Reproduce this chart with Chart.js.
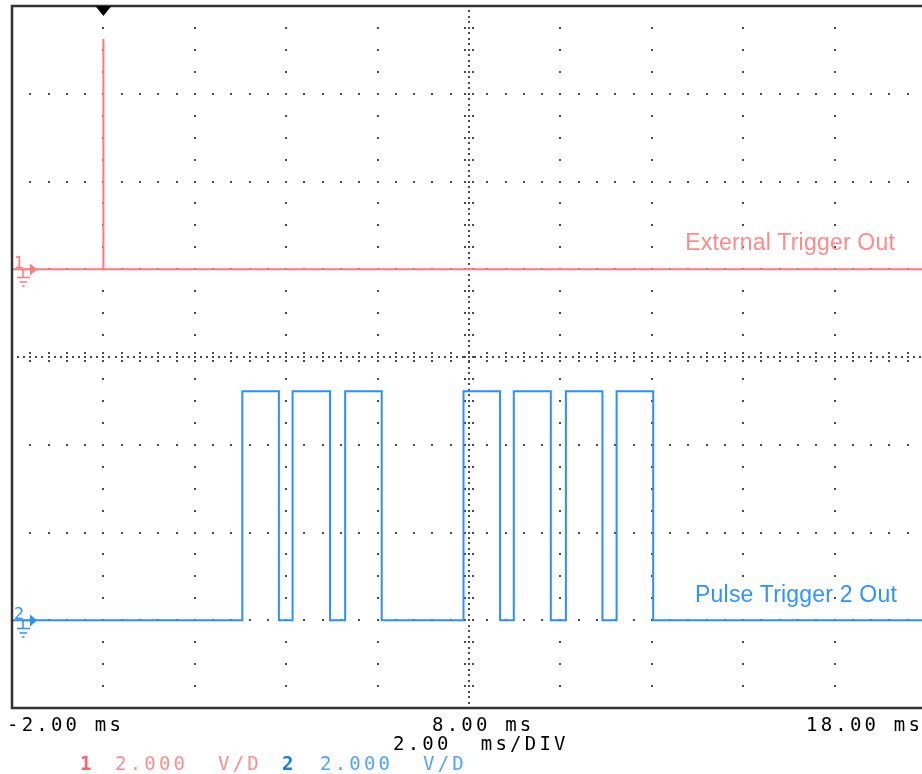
<!DOCTYPE html>
<html>
<head>
<meta charset="utf-8">
<script src="https://cdn.jsdelivr.net/npm/chart.js@4.4.1/dist/chart.umd.min.js"></script>
<style>
html,body{margin:0;padding:0;background:#fff;width:922px;height:774px;overflow:hidden;}
#wrap{position:relative;width:922px;height:774px;overflow:hidden;}
canvas{position:absolute;left:0;top:0;}
.t{position:absolute;white-space:pre;font-family:"DejaVu Sans Mono",monospace;font-size:19px;letter-spacing:3.2px;line-height:1;color:#000;}
.lbl{position:absolute;white-space:pre;font-family:"Liberation Sans",Arial,sans-serif;font-size:23px;line-height:1;letter-spacing:0.2px;}
</style>
</head>
<body>
<div id="wrap">
<canvas id="c" width="940" height="774"></canvas>
<div class="lbl" id="lbl1" style="right:27px;top:231px;color:#ff8a8a;"></div>
<div class="lbl" id="lbl2" style="right:25px;top:583px;color:#2f93ff;"></div>
<div class="t" id="tk0" style="left:7px;top:715px;"></div>
<div class="t" id="tk1" style="left:432px;top:715px;"></div>
<div class="t" id="tk2" style="left:806px;top:715px;"></div>
<div class="t" id="tb" style="left:393px;top:734px;"></div>
<div class="t" id="c1n" style="left:80px;top:754px;color:#ff6464;font-weight:bold;"></div>
<div class="t" id="c1v" style="left:115px;top:754px;color:#ff8c8c;"></div>
<div class="t" id="c1u" style="left:218px;top:754px;color:#ff8c8c;"></div>
<div class="t" id="c2n" style="left:282px;top:754px;color:#1c7fe6;font-weight:bold;"></div>
<div class="t" id="c2v" style="left:320px;top:754px;color:#4ea4ff;"></div>
<div class="t" id="c2u" style="left:423px;top:754px;color:#4ea4ff;"></div>
</div>
<script>
// ---- data ----
const timeRangeMs = [-2, 18];           // horizontal span of the screen
const msPerDiv = 2;
const voltsPerDiv = [2, 2];             // channel 1, channel 2
const channelOffsetDiv = [1, -3];       // ground markers, in divisions from centre
const tickLabels = ["-2.00 ms", "8.00 ms", "18.00 ms"];
const timebaseLabel = "2.00  ms/DIV";
const channelNames = ["External Trigger Out", "Pulse Trigger 2 Out"];
const channelScaleText = ["2.000", "2.000"];
const channelUnitText = ["V/D", "V/D"];

// channel 1: single trigger spike
const triggerTimeMs = 0.0;
const triggerPeakV = 5.25;

// channel 2: pulse train edges (ms) and high level (V)
const pulseRiseMs = [3.04, 4.14, 5.29, 7.88, 8.98, 10.12, 11.23];
const pulseFallMs = [3.84, 4.96, 6.09, 8.68, 9.79, 10.92, 12.03];
const pulseHighV = 5.22;

// ---- text ----
document.getElementById('lbl1').textContent = channelNames[0];
document.getElementById('lbl2').textContent = channelNames[1];
['tk0','tk1','tk2'].forEach((id,i)=>document.getElementById(id).textContent = tickLabels[i]);
document.getElementById('tb').textContent = timebaseLabel;
document.getElementById('c1n').textContent = '1';
document.getElementById('c1v').textContent = channelScaleText[0];
document.getElementById('c1u').textContent = channelUnitText[0];
document.getElementById('c2n').textContent = '2';
document.getElementById('c2v').textContent = channelScaleText[1];
document.getElementById('c2u').textContent = channelUnitText[1];

// ---- build point tables (in divisions) ----
const toDiv = (v, ch) => v / voltsPerDiv[ch] + channelOffsetDiv[ch];
const ch1Points = [
  {x: timeRangeMs[0], y: toDiv(0,0)},
  {x: triggerTimeMs, y: toDiv(0,0)},
  {x: triggerTimeMs, y: toDiv(triggerPeakV,0)},
  {x: triggerTimeMs, y: toDiv(0,0)},
  {x: timeRangeMs[1], y: toDiv(0,0)}
];
const ch2Points = [{x: timeRangeMs[0], y: toDiv(0,1)}];
pulseRiseMs.forEach((r,i)=>{
  const f = pulseFallMs[i];
  ch2Points.push({x:r, y:toDiv(0,1)}, {x:r, y:toDiv(pulseHighV,1)},
                 {x:f, y:toDiv(pulseHighV,1)}, {x:f, y:toDiv(0,1)});
});
ch2Points.push({x: timeRangeMs[1], y: toDiv(0,1)});

const nDivY = 4;
const centreMs = (timeRangeMs[0] + timeRangeMs[1]) / 2;

const scopePlugin = {
  id: 'scope',
  beforeDatasetsDraw(chart) {
    const {ctx, chartArea: a, scales: {x, y}} = chart;
    ctx.save();
    ctx.fillStyle = '#4a4a4a';
    const dot = (px, py) => ctx.fillRect(Math.round(px) - 1, Math.round(py) - 1, 2, 2);
    const divY = y.getPixelForValue(0) - y.getPixelForValue(1);
    const divX = x.getPixelForValue(msPerDiv) - x.getPixelForValue(0);
    for (let d = -nDivY + 1; d < nDivY; d++) {
      const py = y.getPixelForValue(d);
      if (d === 0) {
        for (let k = 1; k < 15 * 10; k++) {
          const px = a.left + k * divX / 15;
          if (k % 3 === 0) { dot(px, py - 4); dot(px, py); dot(px, py + 4); }
          else dot(px, py);
        }
      } else {
        for (let k = 1; k <= 50; k++) dot(a.left + k * divX / 5, py);
      }
    }
    for (let t = timeRangeMs[0] + msPerDiv; t < timeRangeMs[1]; t += msPerDiv) {
      const px = x.getPixelForValue(t);
      if (Math.abs(t - centreMs) < 1e-6) {
        for (let k = 1; k < 16 * 8; k++) {
          const py = a.top + k * divY / 16;
          if (k % 4 === 0) { dot(px - 4, py); dot(px, py); dot(px + 4, py); }
          else dot(px, py);
        }
      } else {
        for (let k = 1; k < 4 * 8; k++) dot(px, a.top + k * divY / 4);
      }
    }
    ctx.restore();
  },
  afterDatasetsDraw(chart) {
    const {ctx, chartArea: a, scales: {x, y}} = chart;
    ctx.save();
    ctx.strokeStyle = '#333';
    ctx.lineWidth = 2.5;
    ctx.beginPath();
    ctx.moveTo(a.right + 5, a.top); ctx.lineTo(a.left, a.top); ctx.lineTo(a.left, a.bottom); ctx.lineTo(a.right + 5, a.bottom);
    ctx.stroke();
    const tx = x.getPixelForValue(triggerTimeMs);
    ctx.fillStyle = '#000';
    ctx.beginPath();
    ctx.moveTo(tx - 8, a.top); ctx.lineTo(tx + 8, a.top); ctx.lineTo(tx, a.top + 10); ctx.closePath();
    ctx.fill();
    const colors = ['#ff7b7b', '#2b8fff'];
    [0, 1].forEach(ch => {
      const py = Math.round(y.getPixelForValue(channelOffsetDiv[ch])) + 0.5;
      ctx.strokeStyle = colors[ch];
      ctx.fillStyle = colors[ch];
      ctx.lineWidth = 1.5;
      ctx.font = '16px "DejaVu Sans", sans-serif';
      ctx.textBaseline = 'alphabetic';
      ctx.fillText(String(ch + 1), 14, py - 2);
      ctx.beginPath();
      ctx.moveTo(22, py); ctx.lineTo(31, py);
      ctx.moveTo(23, py); ctx.lineTo(23, py + 8);
      ctx.moveTo(17, py + 8); ctx.lineTo(30, py + 8);
      ctx.moveTo(19.5, py + 12.5); ctx.lineTo(27, py + 12.5);
      ctx.moveTo(22, py + 16.5); ctx.lineTo(24.5, py + 16.5);
      ctx.stroke();
      ctx.beginPath();
      ctx.moveTo(30, py - 6); ctx.lineTo(37, py); ctx.lineTo(30, py + 6); ctx.closePath();
      ctx.fill();
    });
    ctx.restore();
  }
};

new Chart(document.getElementById('c'), {
  type: 'line',
  data: {
    datasets: [
      {label: channelNames[0], data: ch1Points, borderColor: '#ff7b7b', borderWidth: 2, pointRadius: 0, tension: 0, fill: false},
      {label: channelNames[1], data: ch2Points, borderColor: '#2b8fff', borderWidth: 2, pointRadius: 0, tension: 0, fill: false}
    ]
  },
  options: {
    responsive: false,
    animation: false,
    devicePixelRatio: 1,
    layout: {padding: {left: 12, top: 6, right: 14, bottom: 66}},
    plugins: {legend: {display: false}, tooltip: {enabled: false}},
    scales: {
      x: {type: 'linear', min: timeRangeMs[0], max: timeRangeMs[1], display: false},
      y: {type: 'linear', min: -nDivY, max: nDivY, display: false}
    }
  },
  plugins: [scopePlugin]
});
</script>
</body>
</html>
